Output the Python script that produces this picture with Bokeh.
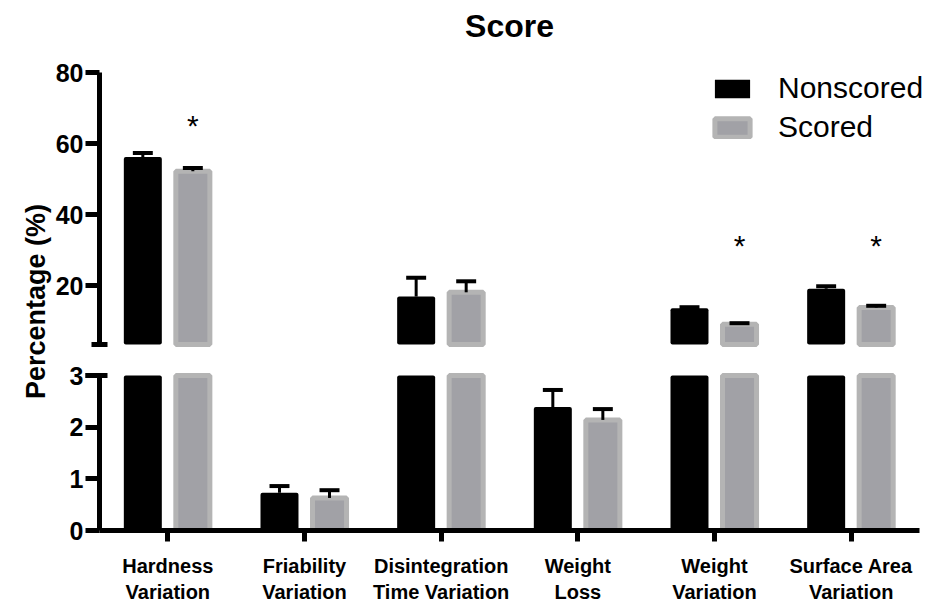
import math
from bokeh.plotting import figure
from bokeh.models import (Range1d, LinearAxis, FixedTicker,
                          ColumnDataSource, Label, Legend, LegendItem)
from bokeh.transform import dodge
from bokeh.core.properties import value
from bokeh.embed import file_html
from bokeh.resources import INLINE

# ---------------- data ----------------
title = "Score"
y_title = "Percentage (%)"
categories = ["Hardness\nVariation", "Friability\nVariation",
              "Disintegration\nTime Variation", "Weight\nLoss",
              "Weight\nVariation", "Surface Area\nVariation"]
nonscored = [56.2, 0.73, 16.9, 2.39, 13.6, 19.1]
nonscored_err = [1.1, 0.13, 5.3, 0.33, 0.3, 0.7]
scored = [52.2, 0.63, 18.1, 2.14, 9.1, 13.8]
scored_err = [0.9, 0.15, 3.1, 0.21, 0.3, 0.5]
significance = ["*", "", "", "", "*", "*"]
star_y = [65.8, None, None, None, 32.2, 32.2]

lower_ticks = [0, 1, 2, 3]
upper_ticks = [20, 40, 60, 80]
lower_max = 3
upper_min = 3.4
upper_max = 80

# ---------------- layout (pixels) ----------------
N = len(categories)
AXIS_W = 820                     # length of the x axis
UNIT = AXIS_W / N                # px per category
LEFT_PAD = 84                    # frame space left of the y axis
RIGHT_PAD = 16                   # frame space right of the x axis end
FRAME_W = LEFT_PAD + AXIS_W + RIGHT_PAD
TOP_PAD, UPPER_PX, GAP_PX, LOWER_PX, BOTTOM_PAD = 72, 272, 31, 155, 72
FRAME_H = TOP_PAD + UPPER_PX + GAP_PX + LOWER_PX + BOTTOM_PAD

k_lo = LOWER_PX / lower_max                  # px per unit, lower segment
k_up = UPPER_PX / (upper_max - upper_min)    # px per unit, upper segment
lo_start = -BOTTOM_PAD / k_lo
lo_end = lo_start + FRAME_H / k_lo
up_end = upper_max + TOP_PAD / k_up
up_start = up_end - FRAME_H / k_up

x_start = -0.5 - LEFT_PAD / UNIT
x_end = N - 0.5 + RIGHT_PAD / UNIT

def px_x(px):          # horizontal pixels from the y axis -> x data
    return -0.5 + px / UNIT

def px_lower(px):      # pixels above the x axis -> lower-range data
    return px / k_lo

def px_upper(px):      # pixels above the "80" tick -> upper-range data
    return upper_max + px / k_up

FONT = "Liberation Sans"

p = figure(x_range=Range1d(x_start, x_end), y_range=Range1d(lo_start, lo_end),
           frame_width=FRAME_W, frame_height=FRAME_H,
           min_border_left=15, min_border_right=0, min_border_top=0,
           min_border_bottom=0,
           output_backend="svg", toolbar_location=None,
           x_axis_location=None, y_axis_location=None)
p.extra_y_ranges = {"upper": Range1d(up_start, up_end)}
p.outline_line_color = None
p.xgrid.grid_line_color = None
p.ygrid.grid_line_color = None
p.background_fill_color = "white"
p.border_fill_color = "white"

OFF = 0.183
CAP = 0.073
styles = [
    dict(name="Nonscored", vals=nonscored, errs=nonscored_err, off=-OFF,
         bar=dict(width=0.278, fill_color="black", line_color=None, border_radius=2)),
    dict(name="Scored", vals=scored, errs=scored_err, off=OFF,
         bar=dict(width=0.249, fill_color="#A1A1A6", line_color="#B4B4B4", line_width=5)),
]

idx = list(range(N))
legend_items = []
for s in styles:
    vals, errs, off = s["vals"], s["errs"], s["off"]
    up = [i for i, v in enumerate(vals) if v > upper_min]
    lo = [i for i, v in enumerate(vals) if v <= lower_max]
    src_up = ColumnDataSource(dict(
        x=up, top=[vals[i] for i in up], bottom=[upper_min] * len(up),
        err=[vals[i] + errs[i] for i in up]))
    src_lo_bar = ColumnDataSource(dict(
        x=idx, top=[min(v, lower_max) for v in vals], bottom=[0] * N))
    src_lo = ColumnDataSource(dict(
        x=lo, top=[vals[i] for i in lo], err=[vals[i] + errs[i] for i in lo]))

    xc = dodge("x", off)
    xl = dodge("x", off - CAP)
    xr = dodge("x", off + CAP)

    r_lo = p.vbar(x=xc, top="top", bottom="bottom", source=src_lo_bar, **s["bar"])
    p.vbar(x=xc, top="top", bottom="bottom", source=src_up, y_range_name="upper", **s["bar"])

    for src, rn in ((src_up, "upper"), (src_lo, "default")):
        p.segment(x0=xc, y0="top", x1=xc, y1="err", source=src, y_range_name=rn,
                  line_color="black", line_width=3)
        p.segment(x0=xl, y0="err", x1=xr, y1="err", source=src, y_range_name=rn,
                  line_color="black", line_width=4)
    legend_items.append(LegendItem(label=s["name"], renderers=[r_lo]))

# significance stars
st = [i for i, t in enumerate(significance) if t]
src_star = ColumnDataSource(dict(x=st, y=[star_y[i] for i in st],
                                 t=[significance[i] for i in st]))
p.text(x=dodge("x", OFF), y="y", text="t", source=src_star,
       y_range_name="upper", text_font=value(FONT), text_font_size="30px",
       text_align="center", text_baseline="alphabetic", y_offset=3, text_color="black")

# ---------------- axes ----------------
def style_axis(ax, size):
    ax.axis_line_width = 5
    ax.axis_line_color = "black"
    ax.major_tick_line_width = 5
    ax.major_tick_line_color = "black"
    ax.minor_tick_line_color = None
    ax.major_label_text_color = "black"
    ax.major_label_text_font = FONT
    ax.major_label_text_font_style = "bold"
    ax.major_label_text_font_size = size
    ax.major_tick_in = 0

lower_axis = LinearAxis(ticker=FixedTicker(ticks=lower_ticks), bounds=(0, lower_max),
                        fixed_location=-0.5)
style_axis(lower_axis, "25px")
lower_axis.major_tick_out = 14
lower_axis.major_label_standoff = 2
p.add_layout(lower_axis, "left")

upper_axis = LinearAxis(y_range_name="upper", ticker=FixedTicker(ticks=upper_ticks),
                        bounds=(upper_min, upper_max), fixed_location=-0.5)
style_axis(upper_axis, "25px")
upper_axis.major_tick_out = 14
upper_axis.major_label_standoff = 2
p.add_layout(upper_axis, "left")

# break caps on the y axis
p.segment(x0=[px_x(-14)], x1=[px_x(8)], y0=[lower_max], y1=[lower_max],
          line_color="black", line_width=5)
p.segment(x0=[px_x(-8)], x1=[px_x(8)], y0=[upper_min], y1=[upper_min],
          line_color="black", line_width=5, y_range_name="upper")

xax = LinearAxis(ticker=FixedTicker(ticks=idx), bounds=(-0.5, N - 0.5),
                 major_label_overrides={i: c for i, c in enumerate(categories)},
                 fixed_location=0)
style_axis(xax, "20px")
xax.major_tick_out = 11
xax.major_label_standoff = 13
xax.major_label_text_line_height = 1.2
p.add_layout(xax, "below")

# title
p.add_layout(Label(x=px_x(AXIS_W / 2), y=px_upper(73 - 26), y_range_name="upper",
                   text=title, text_align="center", text_baseline="alphabetic",
                   text_font=FONT, text_font_style="bold",
                   text_font_size="32px", text_color="black"))

# y label
p.add_layout(Label(x=px_x(37 - 101), y=px_lower(531 - 302),
                   text=y_title, angle=math.pi / 2,
                   text_align="center", text_baseline="middle",
                   text_font=FONT, text_font_style="bold",
                   text_font_size="27px", text_color="black"))

# legend
legend = Legend(items=legend_items, location=(LEFT_PAD + 611, 458), padding=0, margin=0,
                spacing=5, label_standoff=24, glyph_width=44, glyph_height=23,
                label_text_font=FONT, label_text_font_size="30px",
                label_text_color="black", border_line_color=None,
                background_fill_alpha=0)
p.add_layout(legend)

open("out.html", "w").write(file_html(p, INLINE))
